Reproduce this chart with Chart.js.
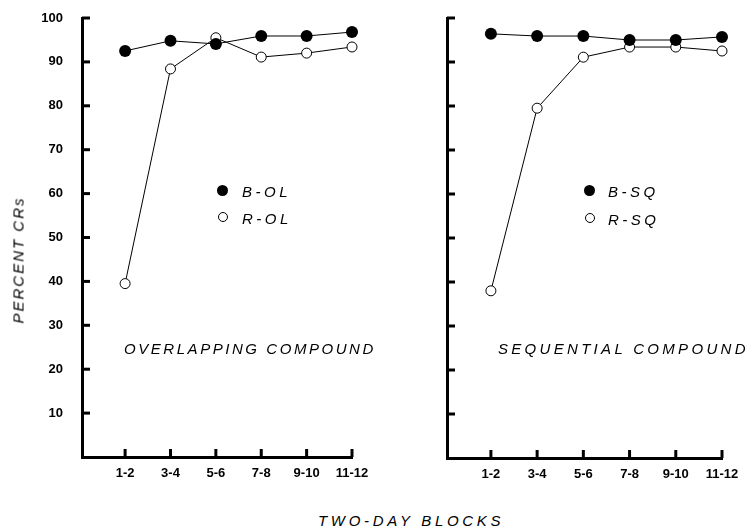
<!DOCTYPE html>
<html>
<head>
<meta charset="utf-8">
<script src="https://cdn.jsdelivr.net/npm/chart.js@4.4.1/dist/chart.umd.min.js"></script>
<style>
  body { margin: 0; background: #fff; width: 749px; height: 531px; overflow: hidden; position: relative; font-family: 'Liberation Sans', Arial, sans-serif; }
  .panel { position: absolute; top: 0; height: 500px; }
  .txt { position: absolute; font-style: italic; font-size: 15px; color: #000; white-space: nowrap; line-height: 1; }
  .dot { position: absolute; width: 11px; height: 11px; border-radius: 50%; box-sizing: border-box; }
  .dot.fill { background: #000; }
  .dot.open { background: #fff; border: 1px solid #000; width: 10px; height: 10px; }
</style>
</head>
<body>
<div class="panel" style="left:0;width:380px"><canvas id="olChart"></canvas></div>
<div class="panel" style="left:365px;width:384px"><canvas id="sqChart"></canvas></div>

<div class="txt" style="left:242px;top:184px;letter-spacing:3.5px">B-OL</div>
<div class="txt" style="left:242px;top:211px;letter-spacing:3.5px">R-OL</div>
<div class="dot fill" style="left:217px;top:185px"></div>
<div class="dot open" style="left:218px;top:212px"></div>

<div class="txt" style="left:608px;top:184px;letter-spacing:3.5px">B-SQ</div>
<div class="txt" style="left:608px;top:212px;letter-spacing:3.5px">R-SQ</div>
<div class="dot fill" style="left:584px;top:185px"></div>
<div class="dot open" style="left:585px;top:213px"></div>

<div class="txt" style="left:124px;top:341px;letter-spacing:2.55px">OVERLAPPING COMPOUND</div>
<div class="txt" style="left:498px;top:341px;letter-spacing:3.3px">SEQUENTIAL COMPOUND</div>
<div class="txt" style="left:318px;top:513px;letter-spacing:3.7px">TWO-DAY BLOCKS</div>
<div class="txt" style="left:18px;top:260px;letter-spacing:2px;transform:translate(-50%,-50%) rotate(-90deg);">PERCENT CRs</div>

<script>
'use strict';

const blocks = ['1-2', '3-4', '5-6', '7-8', '9-10', '11-12'];
const blockPos = [1, 2, 3, 4, 5, 6];
const yTicks = [10, 20, 30, 40, 50, 60, 70, 80, 90, 100];

const bOL = [92.5, 94.8, 94.1, 95.9, 95.9, 96.8];
const rOL = [39.5, 88.4, 95.5, 91.1, 92.0, 93.4];
const bSQ = [96.4, 95.9, 95.9, 95.0, 95.0, 95.7];
const rSQ = [38.0, 79.5, 91.1, 93.4, 93.4, 92.5];

// short inward tick marks on both axes
const innerTicks = {
  id: 'innerTicks',
  afterDraw(chart) {
    const { ctx, chartArea, scales } = chart;
    ctx.save();
    ctx.strokeStyle = '#000';
    ctx.lineWidth = 3;
    yTicks.forEach(v => {
      const y = scales.y.getPixelForValue(v);
      ctx.beginPath(); ctx.moveTo(chartArea.left, y); ctx.lineTo(chartArea.left + 8, y); ctx.stroke();
    });
    blockPos.forEach(v => {
      const x = scales.x.getPixelForValue(v);
      ctx.beginPath(); ctx.moveTo(x, chartArea.bottom); ctx.lineTo(x, chartArea.bottom - 8); ctx.stroke();
    });
    ctx.restore();
  }
};

function series(vals) {
  return vals.map((v, i) => ({ x: blockPos[i], y: v }));
}

function makeChart(id, bVals, rVals, opts) {
  const ctx = document.getElementById(id).getContext('2d');
  return new Chart(ctx, {
    type: 'line',
    data: {
      datasets: [
        { data: series(bVals), borderColor: '#000', borderWidth: 1, pointRadius: 6, pointBackgroundColor: '#000', pointBorderColor: '#000', pointBorderWidth: 0, clip: false },
        { data: series(rVals), borderColor: '#000', borderWidth: 1, pointRadius: 5, pointBackgroundColor: '#fff', pointBorderColor: '#000', pointBorderWidth: 1, clip: false }
      ]
    },
    options: {
      responsive: true, maintainAspectRatio: false, animation: false,
      layout: { padding: { left: 0, top: 18, right: opts.padRight, bottom: 0 } },
      plugins: { legend: { display: false }, tooltip: { enabled: false } },
      scales: {
        x: {
          type: 'linear', min: 0.05, max: 6,
          grid: { display: false, drawTicks: false },
          border: { display: true, color: '#000', width: 3 },
          afterBuildTicks: s => { s.ticks = blockPos.map(v => ({ value: v })); },
          afterFit: s => { s.height = opts.xHeight; },
          ticks: { color: '#000', padding: 9, maxRotation: 0, autoSkip: false, font: { family: 'Liberation Sans', size: 13, weight: 'bold' },
            callback: v => blocks[blockPos.indexOf(v)] }
        },
        y: {
          min: 0, max: 100,
          grid: { display: false, drawTicks: false },
          border: { display: true, color: '#000', width: 3 },
          afterBuildTicks: s => { s.ticks = yTicks.map(v => ({ value: v })); },
          afterFit: s => { s.width = 82; s.paddingTop = 0; s.paddingBottom = 0; },
          ticks: { display: opts.showY, color: '#000', padding: 19, font: { family: 'Liberation Sans', size: 13, weight: 'bold' } }
        }
      }
    },
    plugins: [innerTicks]
  });
}

makeChart('olChart', bOL, rOL, { padRight: 28, xHeight: 43, showY: true });
makeChart('sqChart', bSQ, rSQ, { padRight: 27, xHeight: 42, showY: false });
</script>
</body>
</html>
